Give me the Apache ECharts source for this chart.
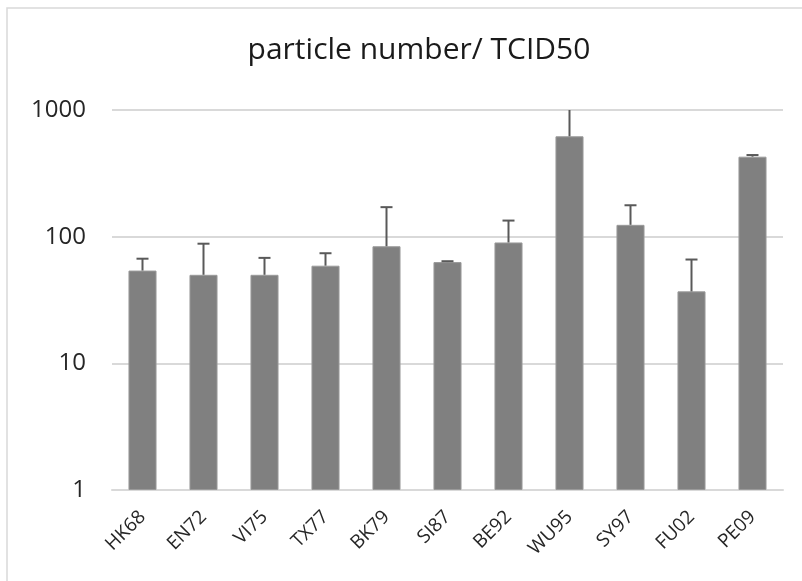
<!DOCTYPE html>
<html>
<head>
<meta charset="utf-8">
<script src="https://cdn.jsdelivr.net/npm/echarts@6/dist/echarts.min.js"></script>
<style>
  html, body { margin: 0; padding: 0; background: #fff; }
  #main { width: 802px; height: 581px; }
</style>
</head>
<body>
<div id="main"></div>
<script>
// 数据
var categories = ['HK68', 'EN72', 'VI75', 'TX77', 'BK79', 'SI87', 'BE92', 'WU95', 'SY97', 'FU02', 'PE09'];
var values = [54, 50, 50, 59, 84, 63, 90, 620, 124, 37, 428];
var errTop = [67, 88, 68, 74, 171, 64, 134, 1300, 177, 66, 441];
var yTicks = [1, 10, 100, 1000];

var axisMax = yTicks[yTicks.length - 1];
var errData = categories.map(function (c, i) {
  return [i, values[i], errTop[i]];
});

var myChart = echarts.init(document.getElementById('main'));

var option = {
  animation: false,
  textStyle: { fontFamily: 'Open Sans' },
  title: {
    text: 'particle number/ TCID50',
    left: 414,
    textAlign: 'center',
    top: 30,
    textStyle: {
      fontFamily: 'Open Sans',
      fontSize: 30,
      fontWeight: 'normal',
      color: '#1a1a1a'
    }
  },
  graphic: [{
    type: 'rect',
    shape: { x: 7, y: 8, width: 830, height: 620 },
    style: { fill: 'none', stroke: '#d9d9d9', lineWidth: 1.5 },
    silent: true
  }],
  grid: {
    left: 112,
    right: 19,
    top: 110,
    bottom: 91
  },
  xAxis: {
    type: 'category',
    data: categories,
    axisTick: { show: false },
    axisLine: { lineStyle: { color: '#d9d9d9', width: 2 } },
    axisLabel: {
      rotate: 45,
      interval: 0,
      fontSize: 19,
      color: '#262626',
      margin: 24
    }
  },
  yAxis: {
    type: 'log',
    logBase: 10,
    min: yTicks[0],
    max: axisMax,
    axisLine: { show: false },
    axisTick: { show: false },
    splitLine: { lineStyle: { color: '#d9d9d9', width: 2 } },
    axisLabel: {
      fontSize: 24,
      color: '#262626',
      margin: 26,
      formatter: function (v) { return String(v); }
    }
  },
  series: [
    {
      name: 'particle number/ TCID50',
      type: 'bar',
      data: values,
      barCategoryGap: '54%',
      itemStyle: { color: '#808080', borderColor: '#9a9a9a', borderWidth: 1 }
    },
    {
      type: 'custom',
      data: errData,
      z: 3,
      renderItem: function (params, api) {
        var x = api.value(0);
        var base = api.coord([x, api.value(1)]);
        var hiVal = api.value(2);
        var clipped = hiVal > axisMax;
        var top = api.coord([x, clipped ? axisMax : hiVal]);
        var children = [{
          type: 'line',
          shape: { x1: base[0], y1: base[1], x2: top[0], y2: top[1] },
          style: { stroke: '#595959', lineWidth: 2 }
        }];
        if (!clipped) {
          children.push({
            type: 'line',
            shape: { x1: top[0] - 6, y1: top[1], x2: top[0] + 6, y2: top[1] },
            style: { stroke: '#595959', lineWidth: 2 }
          });
        }
        return { type: 'group', children: children };
      }
    }
  ]
};

myChart.setOption(option);
</script>
</body>
</html>
